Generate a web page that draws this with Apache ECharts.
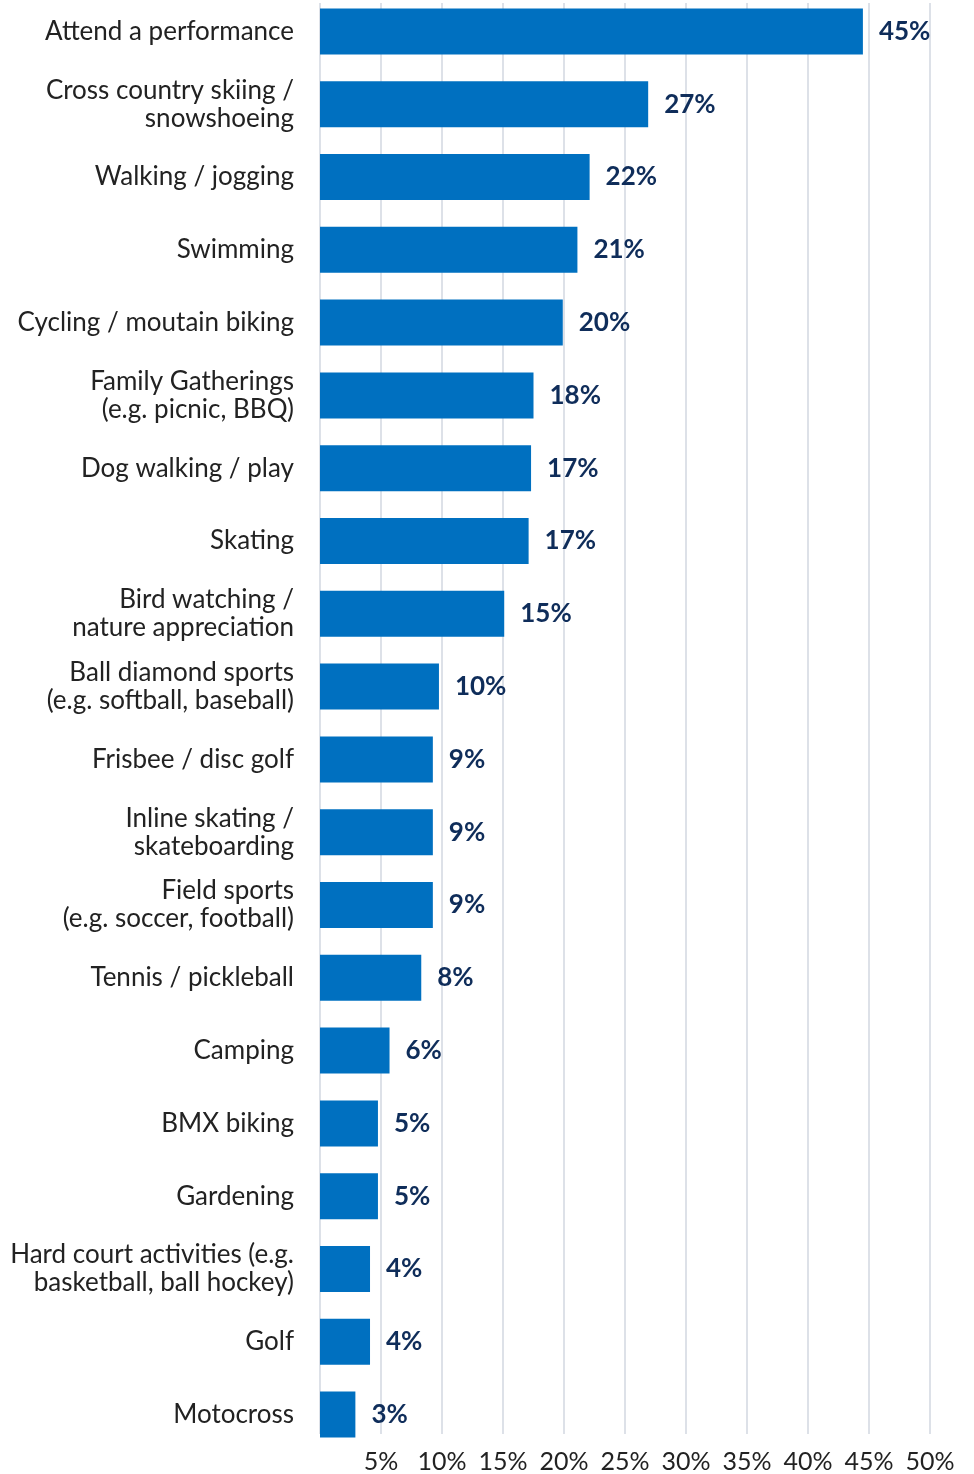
<!DOCTYPE html>
<html>
<head>
<meta charset="utf-8">
<script src="https://cdn.jsdelivr.net/npm/echarts@6/dist/echarts.min.js"></script>
<style>
html,body{margin:0;padding:0;background:#fff;overflow:hidden;}
#chart{position:absolute;left:0;top:-5px;width:974px;height:1479px;}
</style>
</head>
<body>
<div id="chart"></div>
<script>
const categories = [
  "Attend a performance",
  "Cross country skiing /\nsnowshoeing",
  "Walking / jogging",
  "Swimming",
  "Cycling / moutain biking",
  "Family Gatherings\n(e.g. picnic, BBQ)",
  "Dog walking / play",
  "Skating",
  "Bird watching /\nnature appreciation",
  "Ball diamond sports\n(e.g. softball, baseball)",
  "Frisbee / disc golf",
  "Inline skating /\nskateboarding",
  "Field sports\n(e.g. soccer, football)",
  "Tennis / pickleball",
  "Camping",
  "BMX biking",
  "Gardening",
  "Hard court activities (e.g.\nbasketball, ball hockey)",
  "Golf",
  "Motocross"
];
const values = [44.5, 26.9, 22.1, 21.1, 19.9, 17.5, 17.3, 17.1, 15.1, 9.75, 9.25, 9.25, 9.25, 8.3, 5.7, 4.75, 4.75, 4.1, 4.1, 2.9];
const tickValues = [5, 10, 15, 20, 25, 30, 35, 40, 45, 50];

const FONT = 'Lato';
const chart = echarts.init(document.getElementById('chart'), null, {renderer: 'canvas'});
chart.setOption({
  animation: false,
  backgroundColor: '#ffffff',
  grid: [
    {left: 320, width: 610, top: 0, height: 1456, containLabel: false},
    {left: 320, width: 610, top: 8, height: 1442, containLabel: false}
  ],
  xAxis: [
    {gridIndex: 0, type: 'value', min: 0, max: 50, interval: 5,
      axisLine: {show: false}, axisTick: {show: false}, axisLabel: {show: false}, splitLine: {show: false}},
    {gridIndex: 1, type: 'value', min: 0, max: 50, interval: 5, position: 'bottom',
      axisLine: {show: false}, axisTick: {show: false},
      splitLine: {show: true, lineStyle: {color: '#dde1e8', width: 2}},
      axisLabel: {show: true, margin: 15, fontFamily: FONT, fontSize: 25, color: '#222222',
        formatter: function (v) { return tickValues.indexOf(v) >= 0 ? v + '%' : ''; }}}
  ],
  yAxis: [
    {gridIndex: 0, type: 'category', data: categories, inverse: true,
      axisLine: {show: false}, axisTick: {show: false}, splitLine: {show: false},
      axisLabel: {margin: 26, fontFamily: FONT, fontSize: 26, color: '#222222', lineHeight: 28, align: 'right'}},
    {gridIndex: 1, type: 'value', min: 0, max: 1,
      axisLine: {show: false}, axisTick: {show: false}, axisLabel: {show: false}, splitLine: {show: false}}
  ],
  series: [{
    type: 'bar',
    xAxisIndex: 0, yAxisIndex: 0,
    data: values,
    barWidth: 46,
    itemStyle: {color: '#0070C0'},
    z: 3,
    label: {
      show: true, position: 'right', distance: 16,
      fontFamily: FONT, fontWeight: 'bold', fontSize: 26, color: '#0f2d5a',
      formatter: function (p) { return Math.round(p.value) + '%'; }
    }
  }]
});
</script>
</body>
</html>
